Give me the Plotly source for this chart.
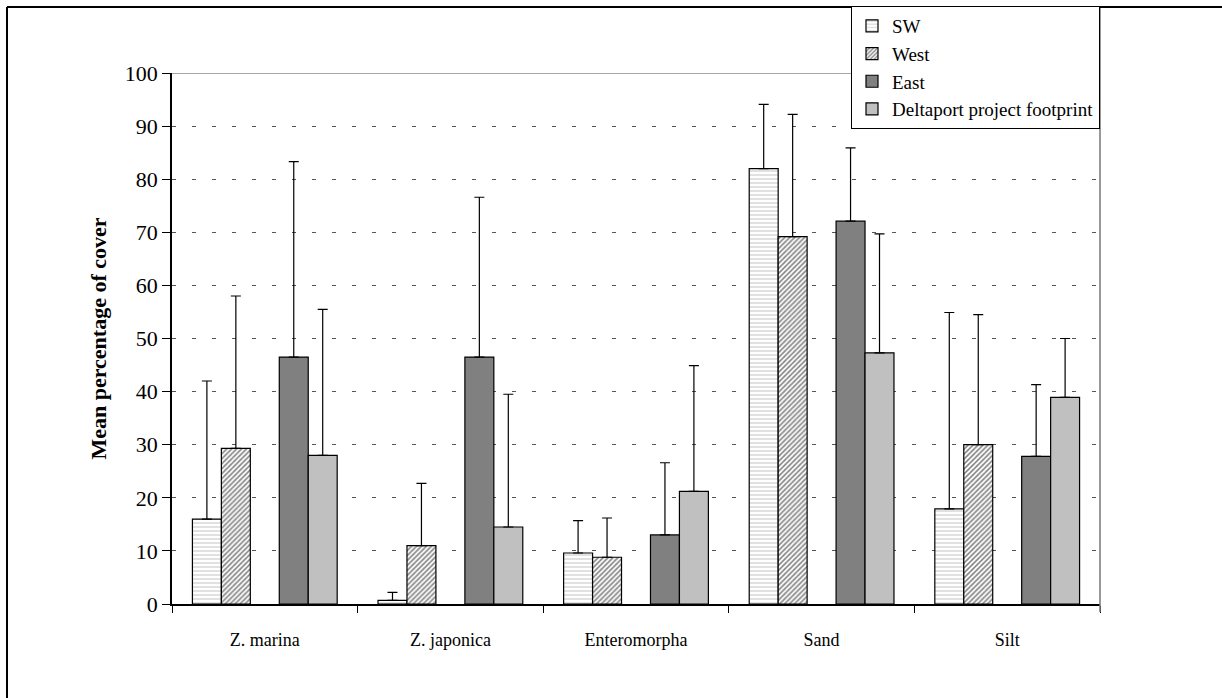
import plotly.graph_objects as go

categories = ["Z. marina", "Z. japonica", "Enteromorpha", "Sand", "Silt"]

sw_mean = [16.0, 0.7, 9.6, 82.0, 17.9]
sw_upper = [42.0, 2.2, 15.7, 94.1, 54.9]

west_mean = [29.3, 11.0, 8.8, 69.2, 30.0]
west_upper = [58.0, 22.7, 16.2, 92.2, 54.5]

east_mean = [46.5, 46.5, 13.0, 72.1, 27.8]
east_upper = [83.3, 76.6, 26.6, 85.9, 41.3]

delta_mean = [28.0, 14.5, 21.2, 47.3, 38.9]
delta_upper = [55.5, 39.5, 44.9, 69.7, 50.0]

y_ticks = [0, 10, 20, 30, 40, 50, 60, 70, 80, 90, 100]

FONT = "Liberation Serif"


def plus_err(mean, upper):
    return dict(
        type="data",
        symmetric=False,
        array=[u - m for m, u in zip(mean, upper)],
        arrayminus=[0] * len(mean),
        color="black",
        thickness=1.2,
        width=5,
    )


fig = go.Figure()

fig.add_trace(go.Bar(
    name="SW", x=categories, y=sw_mean,
    marker=dict(color="white", line=dict(color="black", width=1.2),
                pattern=dict(shape="-", size=4, solidity=0.3,
                             fgcolor="#9a9a9a", bgcolor="white")),
    error_y=plus_err(sw_mean, sw_upper),
))
fig.add_trace(go.Bar(
    name="West", x=categories, y=west_mean,
    marker=dict(color="white", line=dict(color="black", width=1.2),
                pattern=dict(shape="/", size=3.5, solidity=0.45,
                             fgcolor="black", bgcolor="white")),
    error_y=plus_err(west_mean, west_upper),
))
# empty slot that keeps the gap between the western and eastern bars
fig.add_trace(go.Bar(
    name="", x=categories, y=[0] * len(categories),
    marker=dict(color="rgba(0,0,0,0)", line=dict(width=0)),
    showlegend=False, hoverinfo="skip",
))
fig.add_trace(go.Bar(
    name="East", x=categories, y=east_mean,
    marker=dict(color="#808080", line=dict(color="black", width=1.2)),
    error_y=plus_err(east_mean, east_upper),
))
fig.add_trace(go.Bar(
    name="Deltaport project footprint", x=categories, y=delta_mean,
    marker=dict(color="#c0c0c0", line=dict(color="black", width=1.2)),
    error_y=plus_err(delta_mean, delta_upper),
))

L, R, T, B = 172, 1100, 73, 604
W, H = 1222, 698

fig.update_layout(
    width=W, height=H,
    margin=dict(l=L, r=W - R, t=T, b=H - B, pad=0, autoexpand=False),
    paper_bgcolor="white", plot_bgcolor="white",
    barmode="group", bargap=0.22, bargroupgap=0,
    font=dict(family=FONT, size=18, color="black"),
    showlegend=True,
    legend=dict(
        x=1.0, xanchor="right", y=(B - 6) / (B - T), yanchor="top",
        bgcolor="white", bordercolor="black", borderwidth=1,
        font=dict(family=FONT, size=19, color="black"),
        itemwidth=30, tracegroupgap=0,
    ),
    xaxis=dict(
        type="category", showgrid=False,
        showline=True, linecolor="black", linewidth=1.5,
        ticks="outside", tickson="boundaries", ticklen=7,
        tickcolor="black", tickfont=dict(family=FONT, size=18),
        ticklabelstandoff=19, zeroline=False,
    ),
    yaxis=dict(
        range=[0, 100], tickvals=y_ticks,
        showline=True, linecolor="black", linewidth=1.5,
        ticks="outside", ticklen=8, tickcolor="black",
        tickfont=dict(family=FONT, size=22),
        showgrid=True, gridcolor="#555555", gridwidth=1,
        griddash="4px,16px", zeroline=False,
        title=dict(text="<b>Mean percentage of cover</b>",
                   font=dict(family=FONT, size=22), standoff=12),
    ),
    shapes=[
        # plot-area frame line at 100 and right edge running to the top border
        dict(type="line", xref="paper", yref="y", x0=0, x1=1, y0=100, y1=100,
             line=dict(color="#888888", width=1.5), layer="below"),
        dict(type="line", xref="paper", yref="paper", x0=1, x1=1,
             y0=-8 / (B - T), y1=(B - 7) / (B - T),
             line=dict(color="#777777", width=1.5)),
        # outer border of the figure
        dict(type="line", xref="paper", yref="paper",
             x0=(7 - L) / (R - L), x1=(W - L) / (R - L),
             y0=(B - 7) / (B - T), y1=(B - 7) / (B - T),
             line=dict(color="black", width=2)),
        dict(type="line", xref="paper", yref="paper",
             x0=(7 - L) / (R - L), x1=(7 - L) / (R - L),
             y0=(B - H) / (B - T), y1=(B - 7) / (B - T),
             line=dict(color="black", width=2)),
    ],
)

fig.write_html("out.html")
